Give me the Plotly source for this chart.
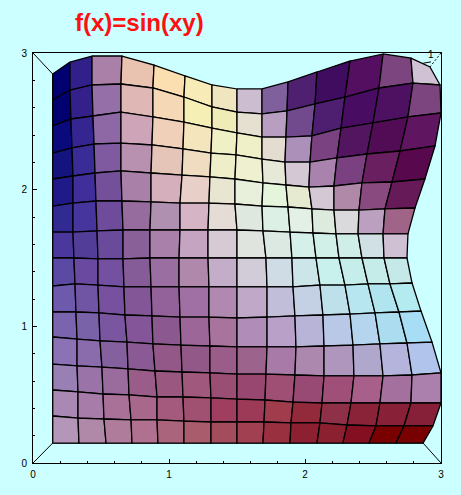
import plotly.graph_objects as go

title_text = "f(x)=sin(xy)"
tick_values = [0, 1, 2, 3]
tick_labels = ["0", "1", "2", "3"]

node_x = [
 [.145,.272,.434,.654,.890,1.118,1.316,1.500,1.684,1.875,2.088,2.331,2.574,2.779,2.919],
 [.145,.272,.434,.647,.882,1.110,1.316,1.500,1.684,1.868,2.074,2.294,2.544,2.794,2.993],
 [.145,.279,.441,.647,.882,1.110,1.316,1.500,1.684,1.860,2.051,2.265,2.500,2.757,3.000],
 [.145,.287,.449,.647,.875,1.103,1.309,1.493,1.684,1.853,2.037,2.235,2.456,2.699,2.956],
 [.145,.294,.456,.647,.868,1.096,1.301,1.485,1.691,1.860,2.029,2.213,2.419,2.640,2.882],
 [.145,.294,.463,.654,.868,1.081,1.294,1.485,1.684,1.875,2.051,2.213,2.397,2.588,2.809],
 [.145,.294,.471,.662,.860,1.081,1.287,1.500,1.691,1.890,2.059,2.228,2.390,2.574,2.757],
 [.145,.301,.478,.662,.860,1.074,1.287,1.500,1.713,1.904,2.081,2.250,2.419,2.581,2.750],
 [.145,.309,.478,.669,.868,1.074,1.294,1.500,1.721,1.912,2.110,2.294,2.463,2.625,2.787],
 [.145,.316,.485,.676,.875,1.081,1.294,1.500,1.721,1.926,2.132,2.331,2.515,2.691,2.853],
 [.145,.324,.493,.691,.882,1.088,1.301,1.500,1.721,1.934,2.140,2.353,2.551,2.750,2.934],
 [.145,.324,.507,.699,.897,1.096,1.301,1.500,1.713,1.926,2.140,2.360,2.574,2.787,3.000],
 [.145,.331,.515,.706,.912,1.103,1.309,1.500,1.706,1.912,2.125,2.338,2.551,2.779,3.000],
 [.145,.331,.522,.721,.912,1.110,1.309,1.500,1.699,1.897,2.110,2.309,2.522,2.728,2.941],
 [.145,.338,.537,.728,.919,1.110,1.309,1.500,1.691,1.890,2.088,2.279,2.471,2.669,2.868],
]
node_y = [
 [2.846,2.934,2.978,2.978,2.912,2.832,2.766,2.737,2.737,2.788,2.861,2.941,2.993,2.963,2.898],
 [2.656,2.729,2.766,2.773,2.744,2.678,2.605,2.568,2.554,2.576,2.627,2.678,2.744,2.780,2.766],
 [2.466,2.517,2.539,2.568,2.532,2.495,2.451,2.415,2.385,2.385,2.393,2.451,2.488,2.532,2.561],
 [2.268,2.305,2.334,2.341,2.327,2.298,2.268,2.254,2.224,2.202,2.202,2.232,2.261,2.283,2.320],
 [2.078,2.100,2.122,2.137,2.122,2.107,2.093,2.078,2.049,2.034,2.019,2.027,2.049,2.056,2.078],
 [1.880,1.902,1.917,1.917,1.910,1.902,1.902,1.895,1.880,1.873,1.859,1.851,1.851,1.859,1.866],
 [1.690,1.690,1.698,1.705,1.705,1.705,1.705,1.705,1.698,1.690,1.683,1.676,1.676,1.676,1.676],
 [1.500,1.500,1.493,1.493,1.500,1.500,1.500,1.500,1.500,1.500,1.500,1.500,1.500,1.500,1.500],
 [1.295,1.310,1.302,1.288,1.288,1.288,1.288,1.288,1.288,1.288,1.302,1.302,1.310,1.310,1.317],
 [1.105,1.105,1.098,1.083,1.076,1.068,1.068,1.061,1.068,1.076,1.083,1.090,1.098,1.105,1.112],
 [.922,.907,.893,.885,.871,.863,.856,.849,.849,.849,.856,.863,.871,.878,.885],
 [.724,.710,.702,.688,.673,.666,.659,.651,.651,.644,.637,.637,.637,.644,.659],
 [.534,.520,.505,.498,.483,.483,.476,.468,.461,.446,.439,.439,.439,.439,.439],
 [.344,.329,.322,.315,.315,.307,.300,.300,.300,.293,.293,.278,.271,.271,.271],
 [.146,.146,.146,.146,.146,.146,.146,.146,.146,.146,.146,.146,.146,.146,.146],
]
cell_colors = [
 ["#000070","#32208a","#ab80a8","#e9c3b0","#fbdfb0","#f7ecb8","#efe6c0","#cdbdd0","#80609c","#4f2070","#400c60","#550f60","#7c4580","#d0c2d4"],
 ["#000070","#33208a","#9570a8","#dfb8b5","#f5d8b5","#f5efb5","#f0ecb8","#e5e0d0","#b89ec0","#704a8c","#4e1f70","#480c62","#4e1060","#7c4580"],
 ["#0a0a7c","#352590","#8d68a5","#cea5b8","#f0d0b8","#f5e5bd","#f0f0c5","#eff0c8","#e4dcd0","#ad90ba","#7a4280","#541560","#520c55","#5f1560"],
 ["#14147f","#3a2c96","#7f5aa0","#b890b0","#e5c5b8","#f0dcc0","#eeeec8","#eef0d0","#e6e8d8","#d4c8d5","#aa82ae","#7a4080","#6a1f60","#58084c"],
 ["#201a88","#402f9a","#735099","#a880a8","#d5b0bc","#e8d0c8","#e8e6d0","#e8f0dc","#e4f5dc","#e5ead0","#d4c8d5","#b088a8","#884a7f","#661a58"],
 ["#302a92","#45359c","#6f4b9c","#966c9f","#b090b0","#d5b5c5","#e4dcd5","#dfe8de","#ddf0e5","#e2f0e5","#ddeade","#dadadd","#bba0c0","#a06488"],
 ["#4a389c","#523d98","#6a4a9a","#8a6098","#a980aa","#c4a4c0","#d6cad4","#dfe5de","#dbe9e2","#d5f0e8","#d0f0e8","#d0eee8","#d0e0e5","#d0c0d4"],
 ["#5a4aa4","#6a4aa0","#7450a0","#865c98","#9a6ea0","#b088ac","#c4adc8","#d2ccd8","#d0dce5","#cbe5e8","#c8f0ec","#c5eeea","#c5ece8","#c5e8e8"],
 ["#6d5aac","#7055a4","#7750a0","#835698","#93629a","#a070a4","#b088b0","#c0a8c8","#c0bed8","#c4d0e4","#bde0ea","#b8e6f0","#b0e5f0","#b4ebf0"],
 ["#7a64ae","#7a62a8","#7a55a0","#85559a","#8c5890","#9c6698","#a8749e","#b08cb8","#b8a0c8","#b8b4d8","#b8c8e6","#b5d5ee","#acdcf0","#a8def5"],
 ["#8a72b4","#8a6cac","#85609e","#8a5a94","#935888","#915888","#9a5c88","#9c648c","#a87aa8","#ac88ae","#ae96bc","#b0a8cc","#b4b4dc","#b0c4ec"],
 ["#9880b4","#9a74a8","#9a6c9e","#9a5c88","#9a5880","#a0587c","#9a4e74","#984870","#a04f74","#984a74","#a05078","#a8608a","#a4709e","#ac80ac"],
 ["#a988b4","#a87ca8","#a97098","#a8688c","#a45a7c","#a05070","#a03e60","#9c3a58","#a03c4c","#922a3c","#8e3048","#8a2238","#882038","#862038"],
 ["#b496b8","#b088a8","#b07c9c","#b07090","#aa647c","#a85c6c","#a24c5c","#a04050","#983040","#8c2030","#8a2030","#840f20","#780000","#780000"],
]

# inner (far) face of the bounding box and its corner connectors, in axis units
box_x = [.145, .145, 2.868]
box_y = [2.846, .146, .146]
corner_x = [[0, .145], [0, .145], [3, 2.868]]
corner_y = [[3, 2.846], [0, .146], [0, .146]]
# vertical axis seen end-on in the far corner, with its tick
zaxis_x = [3.0, 2.919]
zaxis_y = [3.0, 2.898]
ztick_x = [2.868, 2.926]
ztick_y = [2.925, 2.935]

fig = go.Figure()

for cx, cy in zip(corner_x, corner_y):
    fig.add_trace(go.Scatter(x=cx, y=cy, mode="lines", line=dict(color="black", width=1), hoverinfo="skip"))
fig.add_trace(go.Scatter(x=box_x, y=box_y, mode="lines", line=dict(color="black", width=1), hoverinfo="skip"))

for r, row in enumerate(cell_colors):
    for c, color in enumerate(row):
        xs = [node_x[r][c], node_x[r][c+1], node_x[r+1][c+1], node_x[r+1][c], node_x[r][c]]
        ys = [node_y[r][c], node_y[r][c+1], node_y[r+1][c+1], node_y[r+1][c], node_y[r][c]]
        fig.add_trace(go.Scatter(x=xs, y=ys, mode="lines", fill="toself", fillcolor=color,
                                 line=dict(color="black", width=1.3), hoverinfo="skip"))

fig.add_trace(go.Scatter(x=zaxis_x, y=zaxis_y, mode="lines",
                         line=dict(color="black", width=1, dash="2px,2px"), hoverinfo="skip"))
fig.add_trace(go.Scatter(x=ztick_x, y=ztick_y, mode="lines",
                         line=dict(color="black", width=1), hoverinfo="skip"))

axis_style = dict(
    range=[0, 3], tickvals=tick_values, ticktext=tick_labels, ticks="inside", ticklen=4,
    tickcolor="black", tickwidth=1, showgrid=False, zeroline=False, showline=True,
    linecolor="black", linewidth=1, mirror=True,
    tickfont=dict(family="Liberation Sans", size=10, color="black"),
    minor=dict(dtick=0.2, ticks="inside", ticklen=2, tickcolor="black", tickwidth=1, showgrid=False),
)
fig.update_layout(
    width=461, height=495, showlegend=False,
    paper_bgcolor="#ccffff", plot_bgcolor="#ccffff",
    margin=dict(l=33, r=19.5, t=53, b=32),
    xaxis={**axis_style, "ticklabelstandoff": 2},
    yaxis={**axis_style, "ticklabelstandoff": 3},
    annotations=[
        dict(text=title_text, x=0.262, y=1, xref="paper", yref="paper", xanchor="center", yanchor="middle",
             yshift=31, showarrow=False, font=dict(family="Liberation Sans", size=24, color="#ff1010", weight="bold")),
        dict(text="1", x=2.927, y=3.0, xref="x", yref="y", xanchor="center", yanchor="middle", yshift=-1, showarrow=False,
             font=dict(family="Liberation Sans", size=10, color="black")),
    ],
)
fig.write_html(
    "out.html",
    config={"displayModeBar": False},
    post_script="document.body.style.margin='0';",
)
